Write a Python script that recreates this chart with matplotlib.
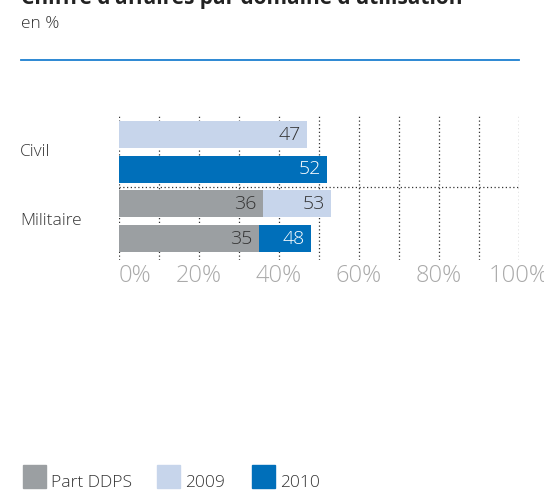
import numpy as np
import matplotlib
matplotlib.use("Agg")
import matplotlib.pyplot as plt
from matplotlib.patches import Rectangle

plt.rcParams['font.family'] = ['Open Sans', 'DejaVu Sans']

# data
groups = ["Civil", "Militaire"]
years = ["2009", "2010"]
total = {"Civil": [47, 52], "Militaire": [53, 48]}
ddps = {"Civil": [0, 0], "Militaire": [36, 35]}
legend_labels = ["Part DDPS", "2009", "2010"]
xticks = [0, 20, 40, 60, 80, 100]

c_ddps = '#9b9fa2'
c_year = {'2009': '#c7d5eb', '2010': '#006fba'}
txt_dark = '#333333'

W, H = 544, 490
fig = plt.figure(figsize=(W / 100, H / 100), dpi=100)

def fx(px):
    return px / W

def fy(py):
    return 1 - py / H

ax = fig.add_axes([fx(119), fy(260), fx(519) - fx(119), fy(116) - fy(260)])

step = 34.67
ax.set_ylim((260 - 134.5) / step, (116 - 134.5) / step)
ax.set_xlim(0, 100)

# grid
for gx in np.arange(0, 101, 10):
    ax.axvline(gx, color='#333333', lw=0.9, ls=(0, (1, 2)), zorder=0)
ax.axhline(1.5, color='#333333', lw=0.9, ls=(0, (1, 2)), zorder=0)

pos = 0
for g in groups:
    for i, yr in enumerate(years):
        t = total[g][i]
        d = ddps[g][i]
        ax.barh(pos, t, height=27 / step, color=c_year[yr], zorder=2)
        tc = 'white' if yr == '2010' else txt_dark
        ax.text(t - 1.6, pos, str(t), ha='right', va='center',
                fontsize=14, color=tc, zorder=3, fontweight='light')
        if d > 0:
            ax.barh(pos, d, height=27 / step, color=c_ddps, zorder=2)
            ax.text(d - 1.6, pos, str(d), ha='right', va='center',
                    fontsize=14, color=txt_dark, zorder=3, fontweight='light')
        pos += 1

for s in ax.spines.values():
    s.set_visible(False)
ax.set_yticks([])
ax.set_xticks(xticks)
ax.set_xticklabels([f"{v}%" for v in xticks], fontsize=17, color='#aaaaaa',
                   fontweight='light')
ax.tick_params(axis='x', length=0, pad=3)
ax.get_xticklabels()[0].set_ha('left')

# category labels
for j, g in enumerate(groups):
    ax.text(-0.247, 2 * j + 0.5, g, transform=ax.get_yaxis_transform(),
            ha='left', va='center', fontsize=12.5, color=txt_dark,
            fontweight='light')

# header
fig.text(fx(21), fy(4), "Chiffre d'affaires par domaine d'utilisation",
         fontsize=15, fontweight='bold', color='#222222', va='baseline')
fig.text(fx(21), fy(28), "en %", fontsize=12.5, color=txt_dark, va='baseline',
         fontweight='light')
fig.add_artist(plt.Line2D([fx(21), fx(519)], [fy(60.5), fy(60.5)],
                          color='#1c7fd0', lw=1.3))

# legend
leg_colors = [c_ddps, c_year['2009'], c_year['2010']]
leg_x = [23, 157, 252]
for lx, lc, lt in zip(leg_x, leg_colors, legend_labels):
    fig.add_artist(Rectangle((fx(lx), fy(488)), fx(23), 23 / H,
                             transform=fig.transFigure, color=lc))
    fig.text(fx(lx + 28), fy(487), lt, fontsize=12.5, color=txt_dark,
             va='baseline', fontweight='light')

fig.savefig('out.png', dpi=100)
